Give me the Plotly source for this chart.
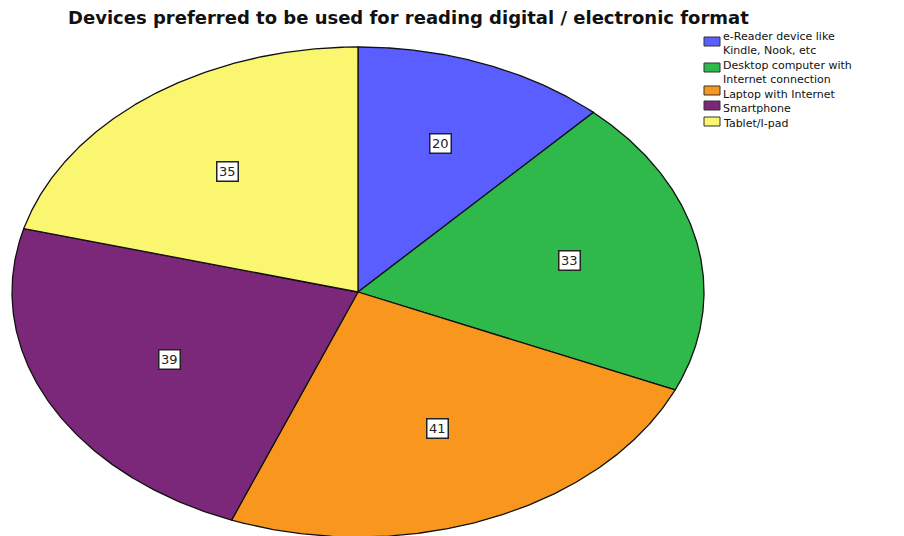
import numpy as np
import plotly.graph_objects as go

# Survey counts per preferred device
categories = [
    "e-Reader device like Kindle, Nook, etc",
    "Desktop computer with Internet connection",
    "Laptop with Internet",
    "Smartphone",
    "Tablet/I-pad",
]
legend_text = [
    "e-Reader device like<br>Kindle, Nook, etc",
    "Desktop computer with<br>Internet connection",
    "Laptop with Internet",
    "Smartphone",
    "Tablet/I-pad",
]
counts = [20, 33, 41, 39, 35]

colors = ["#5a5eff", "#2eb94a", "#f8961e", "#7b287b", "#faf670"]

W, H = 904, 536
CX, CY = 358, 292          # ellipse centre (pixel units)
RX, RY = 346, 245          # horizontal / vertical radii

fig = go.Figure()

total = float(sum(counts))
start = 0.0
label_pos = []
for name, val, col in zip(categories, counts, colors):
    span = val / total * 2 * np.pi
    th = np.linspace(start, start + span, 200)
    xs = np.concatenate([[CX], CX + RX * np.sin(th), [CX]])
    ys = np.concatenate([[CY], CY - RY * np.cos(th), [CY]])
    fig.add_trace(go.Scatter(
        x=xs, y=ys, mode="lines", fill="toself", fillcolor=col,
        line=dict(color="#111111", width=1.3), name=name,
        hoverinfo="name", showlegend=False,
    ))
    mid = start + span / 2
    d = 4 * np.sin(span / 2) / (3 * span)   # sector centroid distance
    label_pos.append((CX + d * RX * np.sin(mid), CY - d * RY * np.cos(mid)))
    start += span

annotations = []
for (lx, ly), val in zip(label_pos, counts):
    annotations.append(dict(
        x=lx, y=ly, xref="x", yref="y", text=str(val), showarrow=False,
        font=dict(family="DejaVu Sans", size=13, color="#222222"),
        bgcolor="white", bordercolor="#222222", borderwidth=1.5, borderpad=1.5,
    ))

# Legend drawn as swatches and text blocks
shapes = []
swatch_top = [37, 63, 86, 101, 117]
text_top = [29, 58, 86.5, 101, 116]
for txt, col, top, ttop in zip(legend_text, colors, swatch_top, text_top):
    shapes.append(dict(
        type="rect", xref="x", yref="y", x0=704, x1=720, y0=top, y1=top + 9,
        fillcolor=col, line=dict(color="#333333", width=1),
    ))
    annotations.append(dict(
        x=722, y=ttop, xref="x", yref="y", text=txt, align="left",
        xanchor="left", yanchor="top", showarrow=False, borderpad=0,
        font=dict(family="DejaVu Sans", size=11, color="#111111"),
    ))

annotations.append(dict(
    x=408, y=17, xref="x", yref="y", showarrow=False,
    text="<b>Devices preferred to be used for reading digital / electronic format</b>",
    font=dict(family="DejaVu Sans", size=18, color="#111111"),
    xanchor="center", yanchor="middle",
))

fig.update_layout(
    width=W, height=H,
    margin=dict(l=0, r=0, t=0, b=0),
    paper_bgcolor="white", plot_bgcolor="white",
    xaxis=dict(range=[0, W], visible=False, fixedrange=True),
    yaxis=dict(range=[H, 0], visible=False, fixedrange=True),
    showlegend=False,
    shapes=shapes,
    annotations=annotations,
)

fig.write_html("out.html")
